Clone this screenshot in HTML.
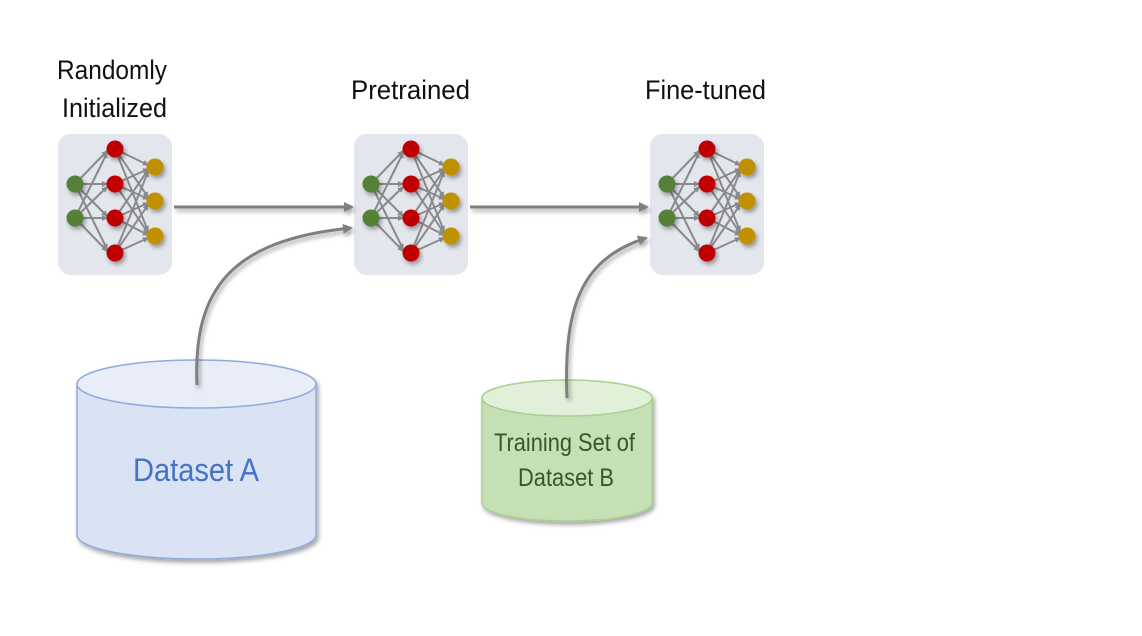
<!DOCTYPE html>
<html><head><meta charset="utf-8"><style>
html,body{margin:0;padding:0;background:#fff;width:1142px;height:636px;overflow:hidden}
text{font-family:"Liberation Sans Narrow","Liberation Sans",sans-serif}
</style></head><body>
<svg width="1142" height="636" viewBox="0 0 1142 636" xmlns="http://www.w3.org/2000/svg">
<defs>
<marker id="ah" markerWidth="10" markerHeight="10" refX="8" refY="5" orient="auto" markerUnits="userSpaceOnUse">
<path d="M0,0 L10,5 L0,10 z" fill="#7f7f7f"/></marker>
<marker id="sa" markerWidth="6" markerHeight="6" refX="5" refY="3" orient="auto" markerUnits="userSpaceOnUse">
<path d="M0,0 L6,3 L0,6 z" fill="#8a8a8a"/></marker>
<filter id="sh" filterUnits="userSpaceOnUse" x="0" y="0" width="1142" height="636"><feDropShadow dx="2" dy="3" stdDeviation="2" flood-opacity="0.35"/></filter>
<g id="net">
<rect x="58" y="134" width="114" height="141" rx="13" fill="#e3e6ec"/>
<g stroke="#8a8a8a" stroke-width="2" marker-end="url(#sa)">
<line x1="75" y1="184" x2="107" y2="151"/><line x1="75" y1="184" x2="107" y2="184"/><line x1="75" y1="184" x2="107" y2="216"/><line x1="75" y1="184" x2="107" y2="249"/>
<line x1="75" y1="218" x2="107" y2="153"/><line x1="75" y1="218" x2="107" y2="187"/><line x1="75" y1="218" x2="107" y2="218"/><line x1="75" y1="218" x2="107" y2="251"/>
<line x1="115" y1="149" x2="148" y2="165"/><line x1="115" y1="149" x2="148" y2="197"/><line x1="115" y1="149" x2="148" y2="231"/>
<line x1="115" y1="184" x2="148" y2="169"/><line x1="115" y1="184" x2="148" y2="199"/><line x1="115" y1="184" x2="148" y2="233"/>
<line x1="115" y1="218" x2="148" y2="170"/><line x1="115" y1="218" x2="148" y2="203"/><line x1="115" y1="218" x2="148" y2="235"/>
<line x1="115" y1="253" x2="148" y2="172"/><line x1="115" y1="253" x2="148" y2="205"/><line x1="115" y1="253" x2="148" y2="238"/>
</g>
<g filter="url(#sh)">
<circle cx="75" cy="184" r="8.5" fill="#538135"/><circle cx="75" cy="218" r="8.5" fill="#538135"/>
<circle cx="115" cy="149" r="8.5" fill="#c00000"/><circle cx="115" cy="184" r="8.5" fill="#c00000"/><circle cx="115" cy="218" r="8.5" fill="#c00000"/><circle cx="115" cy="253" r="8.5" fill="#c00000"/>
<circle cx="155" cy="167" r="8.5" fill="#bf9000"/><circle cx="155" cy="201" r="8.5" fill="#bf9000"/><circle cx="155" cy="236" r="8.5" fill="#bf9000"/>
</g>
</g>
</defs>
<use href="#net"/>
<use href="#net" transform="translate(296,0)"/>
<use href="#net" transform="translate(592,0)"/>

<g font-size="27" fill="#111">
<text x="57" y="79" textLength="110" lengthAdjust="spacingAndGlyphs">Randomly</text>
<text x="62" y="117" textLength="105" lengthAdjust="spacingAndGlyphs">Initialized</text>
<text x="351" y="99" textLength="119" lengthAdjust="spacingAndGlyphs">Pretrained</text>
<text x="645" y="99" textLength="121" lengthAdjust="spacingAndGlyphs">Fine-tuned</text>
</g>

<g stroke="#7f7f7f" stroke-width="3" fill="none" marker-end="url(#ah)" filter="url(#sh)">
<line x1="174" y1="207" x2="352" y2="207"/>
<line x1="470" y1="207" x2="647" y2="207"/>
</g>

<!-- Cylinder A -->
<g filter="url(#sh)">
<path d="M77,384 L77,535 A119.5,24 0 0 0 316,535 L316,384 Z" fill="#dae3f3" stroke="#8faadc" stroke-width="1.5"/>
<ellipse cx="196.5" cy="384" rx="119.5" ry="24" fill="#e8edf8" stroke="#8faadc" stroke-width="1.5"/>
</g>
<text x="133" y="481" font-size="32" fill="#4472c4" textLength="126" lengthAdjust="spacingAndGlyphs">Dataset A</text>

<!-- Cylinder B -->
<g filter="url(#sh)">
<path d="M482,398 L482,503 A85,18 0 0 0 652,503 L652,398 Z" fill="#c5e0b4" stroke="#a9d18e" stroke-width="1.5"/>
<ellipse cx="567" cy="398" rx="85" ry="18" fill="#e2f0d9" stroke="#a9d18e" stroke-width="1.5"/>
</g>
<g font-size="25" fill="#375623">
<text x="494" y="451" textLength="141" lengthAdjust="spacingAndGlyphs">Training Set of</text>
<text x="518" y="486" textLength="96" lengthAdjust="spacingAndGlyphs">Dataset B</text>
</g>

<g stroke="#7f7f7f" stroke-width="3" fill="none" marker-end="url(#ah)" filter="url(#sh)">
<path d="M197,385 C193,290 230,240 351,228"/>
<path d="M567,398 C563,300 585,258 646,238"/>
</g>
</svg>
</body></html>
